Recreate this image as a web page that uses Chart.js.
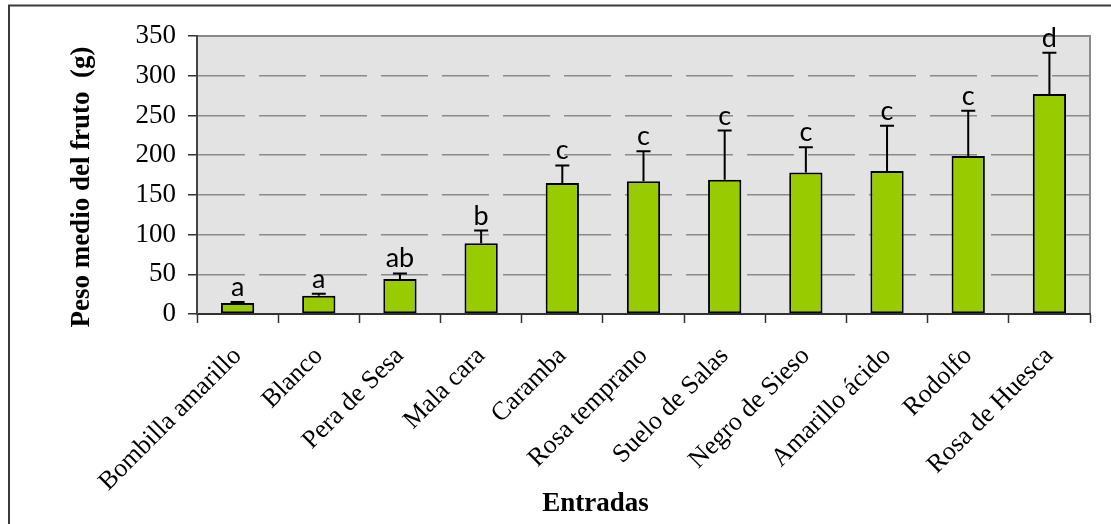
<!DOCTYPE html>
<html>
<head>
<meta charset="utf-8">
<title>Peso medio del fruto</title>
<script src="https://cdn.jsdelivr.net/npm/chart.js@4.4.1/dist/chart.umd.min.js"></script>
<style>
  html, body { margin: 0; padding: 0; background: #fff; }
  #wrap { width: 1111px; height: 524px; }
</style>
</head>
<body>
<div id="wrap"><canvas id="peso" width="1111" height="524"></canvas></div>
<script>
// entradas y peso medio del fruto (g), con error positivo y grupos de Tukey
const entradas = ['Bombilla amarillo', 'Blanco', 'Pera de Sesa', 'Mala cara', 'Caramba',
  'Rosa temprano', 'Suelo de Salas', 'Negro de Sieso', 'Amarillo ácido', 'Rodolfo', 'Rosa de Huesca'];
const pesoMedio = [14, 23, 44, 89, 165, 167, 169, 178, 180, 199, 277];
const errorSup = [1, 2.5, 7, 16, 22, 38, 62, 32, 57, 57, 52];
const grupos = ['a', 'a', 'ab', 'b', 'c', 'c', 'c', 'c', 'c', 'c', 'd'];
const yMin = 0, yMax = 350, yPaso = 50;

const serif = '"Liberation Serif", "Times New Roman", serif';

// fondo gris del area de trazado y marco exterior
const marco = {
  id: 'marco',
  beforeDraw(chart) {
    const {ctx, chartArea: a, width, height} = chart;
    ctx.save();
    ctx.fillStyle = '#fff';
    ctx.fillRect(0, 0, width, height);
    ctx.strokeStyle = '#3a3a3a';
    ctx.lineWidth = 2;
    ctx.strokeRect(9, 5.5, width + 20, height + 20);
    ctx.fillStyle = '#e3e3e3';
    ctx.fillRect(a.left, a.top, a.right - a.left, a.bottom - a.top);
    ctx.strokeStyle = '#8a8a8a';
    ctx.lineWidth = 2;
    ctx.beginPath();
    ctx.moveTo(a.left, a.top);
    ctx.lineTo(a.right, a.top);
    ctx.lineTo(a.right, a.bottom);
    ctx.stroke();
    ctx.restore();
  }
};

// barras de error (solo hacia arriba) y letras de grupo
const errores = {
  id: 'errores',
  afterDatasetsDraw(chart) {
    const {ctx} = chart;
    const x = chart.scales.x, y = chart.scales.y;
    const bars = chart.getDatasetMeta(0).data;
    ctx.save();
    ctx.strokeStyle = '#000';
    ctx.lineWidth = 2;
    ctx.fillStyle = '#000';
    ctx.font = '27px Lato, "Open Sans", sans-serif';
    ctx.textAlign = 'center';
    ctx.textBaseline = 'alphabetic';
    pesoMedio.forEach((v, i) => {
      const px = x.getPixelForValue(i);
      const top = y.getPixelForValue(v + errorSup[i]);
      ctx.beginPath();
      ctx.moveTo(px, bars[i].y);
      ctx.lineTo(px, top);
      ctx.moveTo(px - 7, top);
      ctx.lineTo(px + 7, top);
      ctx.stroke();
      ctx.fillText(grupos[i], px, top - 6);
    });
    ctx.restore();
  }
};

// titulos de los ejes
const titulos = {
  id: 'titulos',
  afterDraw(chart) {
    const {ctx, chartArea: a} = chart;
    ctx.save();
    ctx.fillStyle = '#000';
    ctx.font = 'bold 27px ' + serif;
    ctx.textAlign = 'center';
    ctx.textBaseline = 'middle';
    ctx.fillText('Entradas', (a.left + a.right) / 2 - 48, 504);
    ctx.translate(82, (a.top + a.bottom) / 2 + 12);
    ctx.rotate(-Math.PI / 2);
    ctx.fillText('Peso medio del fruto  (g)', 0, 0);
    ctx.restore();
  }
};

new Chart(document.getElementById('peso'), {
  type: 'bar',
  data: {
    labels: entradas,
    datasets: [{
      data: pesoMedio,
      backgroundColor: '#99cc00',
      borderColor: '#000',
      borderWidth: 2,
      borderSkipped: false,
      categoryPercentage: 1,
      barPercentage: 0.41
    }]
  },
  options: {
    responsive: false,
    animation: false,
    layout: { padding: { left: 0, top: 36, right: 21, bottom: 0 } },
    plugins: {
      legend: { display: false },
      tooltip: { enabled: false }
    },
    scales: {
      x: {
        grid: {
          drawOnChartArea: false,
          drawTicks: true,
          tickLength: 9,
          tickColor: '#333',
          tickWidth: 1.5
        },
        border: { color: '#333', width: 2 },
        ticks: {
          color: '#000',
          font: { family: serif, size: 26 },
          maxRotation: 45,
          minRotation: 45,
          autoSkip: false,
          padding: 18
        },
        afterFit(s) { s.height = 210; }
      },
      y: {
        min: yMin,
        max: yMax,
        grid: {
          color: '#8a8a8a',
          lineWidth: 1.5,
          tickLength: 9,
          tickColor: '#333',
          tickWidth: 1.5
        },
        border: { color: '#444', width: 2, dash: [47, 14] },
        ticks: {
          stepSize: yPaso,
          color: '#000',
          font: { family: serif, size: 27 },
          padding: 12
        },
        afterFit(s) { s.width = 197; }
      }
    }
  },
  plugins: [marco, errores, titulos]
});
</script>
</body>
</html>
